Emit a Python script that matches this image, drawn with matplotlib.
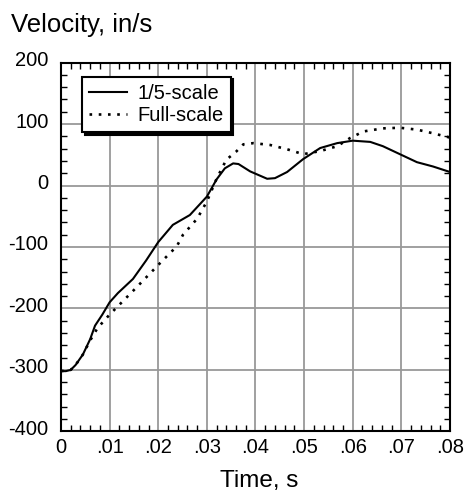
import matplotlib
matplotlib.use("Agg")
import matplotlib.pyplot as plt
from matplotlib.ticker import MultipleLocator
from matplotlib.transforms import ScaledTranslation

plt.rcParams["font.family"] = ["Liberation Sans", "DejaVu Sans"]

# 1/5-scale model (solid)
t_small = [0.0, 0.001, 0.002, 0.003, 0.0045, 0.006, 0.007, 0.0085, 0.010,
           0.0117, 0.0148, 0.0175, 0.020, 0.023, 0.0265, 0.030, 0.032,
           0.0337, 0.0354, 0.0365, 0.0389, 0.0424, 0.044, 0.0465, 0.0498,
           0.0533, 0.0568, 0.060, 0.0636, 0.0662, 0.0697, 0.0732, 0.0765,
           0.080]
v_small = [-302, -302, -300, -292, -275, -250, -228, -210, -190,
           -175, -152, -122, -92, -64, -48, -18, 10,
           28, 36, 35, 23, 11, 12, 22, 43,
           61, 69, 73, 71, 64, 51, 38, 31, 22]

# Full-scale vehicle (dotted)
t_full = [0.0, 0.002, 0.003, 0.0045, 0.006, 0.0075, 0.010, 0.015, 0.0204,
          0.0238, 0.0251, 0.028, 0.030, 0.032, 0.034, 0.036, 0.0375,
          0.0396, 0.043, 0.0465, 0.0498, 0.0533, 0.0568, 0.0594, 0.0622,
          0.0662, 0.0697, 0.0732, 0.0765, 0.080]
v_full = [-302, -300, -292, -275, -252, -232, -210, -170, -126,
          -99, -80, -54, -26, 11, 42, 55, 67,
          69, 66, 59, 51, 56, 64, 77, 88,
          93, 94, 91, 85, 78]

xticks = [0, 0.01, 0.02, 0.03, 0.04, 0.05, 0.06, 0.07, 0.08]
xlabels = ["0", ".01", ".02", ".03", ".04", ".05", ".06", ".07", ".08"]
yticks = [-400, -300, -200, -100, 0, 100, 200]
ylabels = ["-400", "-300", "-200", "-100", "0", "100", "200"]

fig = plt.figure(figsize=(4.67, 4.93), dpi=100)
ax = fig.add_axes([0.1306, 0.125, 0.8330, 0.748])

ax.plot(t_small, v_small, color="black", lw=1.5, label="1/5-scale")
ax.plot(t_full, v_full, color="black", lw=1.9, linestyle=(0, (1, 2.5)),
        dash_capstyle="butt", label="Full-scale")

ax.set_xlim(0, 0.08)
ax.set_ylim(-400, 200)
ax.set_xticks(xticks)
ax.set_xticklabels(xlabels)
ax.set_yticks(yticks)
ax.set_yticklabels(ylabels)
ax.xaxis.set_minor_locator(MultipleLocator(0.002))
ax.yaxis.set_minor_locator(MultipleLocator(20))
ax.tick_params(which="both", direction="in", top=True, right=True,
               width=1, labelsize=14.5)
ax.tick_params(which="major", length=0)
ax.tick_params(axis="y", which="major", pad=9)
ax.tick_params(axis="x", which="major", pad=5)
ax.tick_params(which="minor", length=4)
ax.grid(True, color="#999999", lw=1.3)
ax.set_axisbelow(True)
for s in ax.spines.values():
    s.set_linewidth(1.5)

# y tick labels sit a little above their grid lines
for lab in ax.get_yticklabels():
    lab.set_transform(lab.get_transform() +
                      ScaledTranslation(0, 4 / 100, fig.dpi_scale_trans))

leg = ax.legend(loc="upper left", bbox_to_anchor=(0.054, 0.962),
                fontsize=14.5, frameon=True, fancybox=False,
                edgecolor="black", shadow={"color": "black", "alpha": 1},
                handlelength=1.9, handletextpad=0.5, borderpad=0.35,
                labelspacing=0.15, borderaxespad=0)
leg.get_frame().set_linewidth(1.5)

fig.text(11 / 467, 1 - 32 / 493, "Velocity, in/s", fontsize=18.5,
         va="baseline", ha="left")
fig.text(259 / 467, 1 - 487 / 493, "Time, s", fontsize=17.5,
         va="baseline", ha="center")

fig.savefig("out.png", dpi=100)
